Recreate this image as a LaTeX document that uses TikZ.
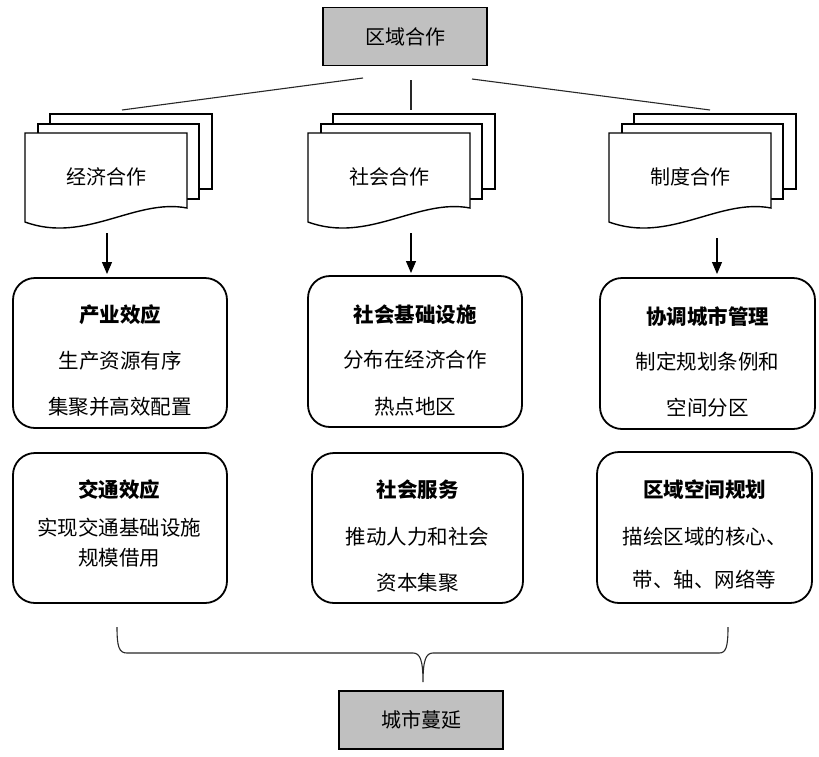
\documentclass[tikz,border=0pt]{standalone}
\usepackage{fontspec}
\setmainfont{Noto Sans CJK SC}
\usetikzlibrary{arrows.meta}
\definecolor{boxgray}{RGB}{192,192,192}
\definecolor{linegray}{RGB}{40,40,40}
\tikzset{
  graybox/.style={draw=black, line width=1.8pt, fill=boxgray, minimum width=164pt, minimum height=58pt, inner sep=0pt, font=\fontsize{20}{22}\selectfont},
  rbox/.style={draw=black, line width=1.8pt, rounded corners=22pt, inner sep=0pt},
  docline/.style={draw=black, line width=1.4pt, fill=white},
  doclabel/.style={inner sep=0pt, font=\fontsize{20}{22}\selectfont},
  ttl/.style={inner sep=0pt, font=\fontsize{20.5}{22}\selectfont\bfseries},
  txt/.style={inner sep=0pt, font=\fontsize{20.5}{22}\selectfont},
  thinline/.style={draw=linegray, line width=1.1pt},
  arr/.style={draw=black, line width=1.1pt, -{Triangle[length=12pt,width=10pt]}},
  bracepath/.style={draw=linegray, line width=1.1pt}
}
\newcommand\mydocstack[3]{%
  \draw[docline] (#1+25,114) rectangle (#1+187,189);
  \draw[docline] (#1+13,124) rectangle (#1+174,199);
  \draw[docline] (#1,133) -- (#1+162,133) -- (#1+162,208)
     .. controls (#1+110,198) and (#1+60,244) .. (#1,222) -- cycle;
  \node[doclabel] (#2) at (#1+81,177) {#3};
}
\begin{document}
\begin{tikzpicture}[x=1pt,y=-1pt]
\useasboundingbox[fill=white] (0,0) rectangle (819,756);

% top box
\node[graybox] (top) at (405,36.5) {区域合作};

% connectors from top
\coordinate (l1s) at (363,78);  \coordinate (l1e) at (122,110);
\coordinate (l2s) at (411,80);  \coordinate (l2e) at (411,110);
\coordinate (l3s) at (472,79);  \coordinate (l3e) at (710,110);
\draw[thinline] (l1s) -- (l1e);
\draw[thinline] (l2s) -- (l2e);
\draw[thinline] (l3s) -- (l3e);

% document stacks
\mydocstack{25}{econ}{经济合作}
\mydocstack{308}{soc}{社会合作}
\mydocstack{609}{inst}{制度合作}

% arrows
\coordinate (a1s) at (107,233); \coordinate (a1e) at (107,274);
\coordinate (a2s) at (411,233); \coordinate (a2e) at (411,273);
\coordinate (a3s) at (717,238); \coordinate (a3e) at (717,274);
\draw[arr] (a1s) -- (a1e);
\draw[arr] (a2s) -- (a2e);
\draw[arr] (a3s) -- (a3e);

% row 1 boxes
\node[rbox, minimum width=214pt, minimum height=150pt] (b11) at (120,353) {};
\node[ttl] (b11t) at (120,315) {产业效应};
\node[txt] (b11a) at (120,361) {生产资源有序};
\node[txt] (b11b) at (120,407) {集聚并高效配置};

\node[rbox, minimum width=214pt, minimum height=151pt] (b12) at (415,351.5) {};
\node[ttl] (b12t) at (415,315) {社会基础设施};
\node[txt] (b12a) at (415,360) {分布在经济合作};
\node[txt] (b12b) at (415,407) {热点地区};

\node[rbox, minimum width=215pt, minimum height=151pt] (b13) at (707.5,353.5) {};
\node[ttl] (b13t) at (707.5,317) {协调城市管理};
\node[txt] (b13a) at (707.5,362) {制定规划条例和};
\node[txt] (b13b) at (707.5,408) {空间分区};

% row 2 boxes
\node[rbox, minimum width=214pt, minimum height=150pt] (b21) at (120,528) {};
\node[ttl] (b21t) at (119,490) {交通效应};
\node[txt] (b21a) at (119,528) {实现交通基础设施};
\node[txt] (b21b) at (119,558) {规模借用};

\node[rbox, minimum width=211pt, minimum height=150pt] (b22) at (417.5,528) {};
\node[ttl] (b22t) at (417.5,490) {社会服务};
\node[txt] (b22a) at (417.5,537) {推动人力和社会};
\node[txt] (b22b) at (417.5,583) {资本集聚};

\node[rbox, minimum width=215pt, minimum height=151pt] (b23) at (704.5,527.5) {};
\node[ttl] (b23t) at (704.5,490) {区域空间规划};
\node[txt] (b23a) at (704.5,537) {描绘区域的核心、};
\node[txt] (b23b) at (704.5,580) {带、轴、网络等};

% brace
\coordinate (brl) at (117,627);
\coordinate (brr) at (728,627);
\coordinate (brtip) at (423,682);
\draw[bracepath] (brl) .. controls (117,647) and (119,653) .. (127,653)
  -- (413,653) .. controls (420,653) and (423,660) .. (brtip)
  .. controls (423,660) and (426,653) .. (433,653)
  -- (719,653) .. controls (726,653) and (728,647) .. (brr);

% bottom box
\node[graybox] (bot) at (421,720) {城市蔓延};
\end{tikzpicture}
\end{document}
